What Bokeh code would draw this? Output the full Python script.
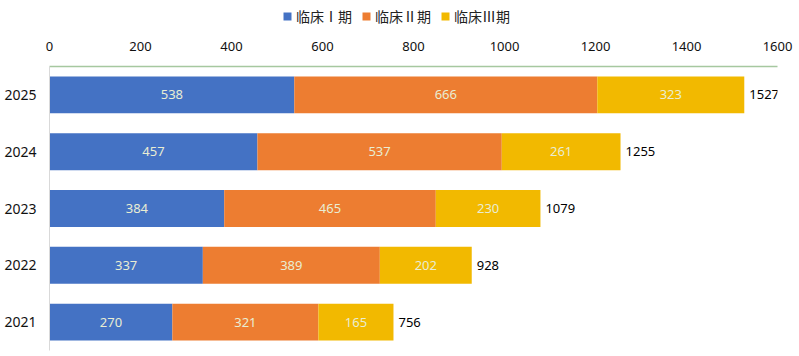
from bokeh.plotting import figure
from bokeh.layouts import column
from bokeh.models import ColumnDataSource, LabelSet, Legend, LegendItem, FixedTicker, Range1d
from bokeh.core.properties import value
from bokeh.embed import file_html
from bokeh.resources import INLINE

years = ["2021", "2022", "2023", "2024", "2025"]
phase1 = [270, 337, 384, 457, 538]
phase2 = [321, 389, 465, 537, 666]
phase3 = [165, 202, 230, 261, 323]
totals = [756, 928, 1079, 1255, 1527]
series_names = ["临床Ⅰ期", "临床Ⅱ期", "临床Ⅲ期"]
colors = ["#4472C4", "#ED7D31", "#F2B900"]
x_ticks = [0, 200, 400, 600, 800, 1000, 1200, 1400, 1600]

src = ColumnDataSource(dict(
    year=years, p1=phase1, p2=phase2, p3=phase3, total=totals,
    m1=[a / 2 for a in phase1],
    m2=[a + b / 2 for a, b in zip(phase1, phase2)],
    m3=[a + b + c / 2 for a, b, c in zip(phase1, phase2, phase3)],
))

# ---- legend strip (its bars are hidden; only the legend shows) ----
lg = figure(width=799, height=36, x_range=Range1d(-2, -1), y_range=Range1d(-2, -1),
            x_axis_location=None, y_axis_location=None,
            output_backend="svg", toolbar_location=None,
            min_border=0, min_border_left=0, min_border_right=0, min_border_top=0, min_border_bottom=0)
lg.grid.visible = False
lg.outline_line_color = None
lg_r = lg.hbar_stack(["p1", "p2", "p3"], y="total", height=1, color=colors,
                     line_color=None, source=src)
for r in lg_r:
    r.visible = False
legend = Legend(items=[LegendItem(label=n, renderers=[r]) for n, r in zip(series_names, lg_r)],
                orientation="horizontal", location=(233, 10),
                label_text_font_size="14px", label_text_font="Noto Sans CJK SC",
                label_text_color="#222222",
                glyph_width=10, glyph_height=10, label_standoff=4, spacing=9,
                padding=0, margin=0, border_line_color=None, background_fill_alpha=0,
                inactive_fill_alpha=0, label_height=14)
lg.add_layout(legend, "center")

# ---- main chart ----
p = figure(width=799, height=320, y_range=years, x_range=Range1d(0, 1600),
           x_axis_location="above", output_backend="svg", toolbar_location=None,
           min_border_left=49, min_border_right=22, min_border_top=30, min_border_bottom=6)

p.hbar_stack(["p1", "p2", "p3"], y="year", height=0.65, color=colors,
             line_color=None, source=src)

font = value("Noto Sans")
for col in ["m1", "m2", "m3"]:
    p.add_layout(LabelSet(x=col, y="year", text=col.replace("m", "p"), source=src,
                          text_font_size="13px", text_font=font, text_align="center",
                          text_baseline="middle", text_color="#E9EDD3"))
p.add_layout(LabelSet(x="total", y="year", text="total", x_offset=5, text_font_size="13px",
                      text_font=font, text_align="left", text_baseline="middle",
                      text_color="#000000", source=src))

p.xaxis.ticker = FixedTicker(ticks=x_ticks)
p.xaxis.major_tick_line_color = None
p.xaxis.minor_tick_line_color = None
p.xaxis.axis_line_color = "#A6C8A0"
p.xaxis.axis_line_width = 1.5
p.xaxis.major_label_standoff = 10
p.xaxis.major_label_text_font_size = "13px"
p.xaxis.major_label_text_font = "Noto Sans"
p.xaxis.major_label_text_color = "#111111"

p.yaxis.major_tick_line_color = None
p.yaxis.minor_tick_line_color = None
p.yaxis.axis_line_color = "#D9D9D9"
p.yaxis.major_label_standoff = 7
p.yaxis.major_label_text_font_size = "14px"
p.yaxis.major_label_text_font = "Noto Sans"
p.yaxis.major_label_text_color = "#111111"

p.xgrid.visible = False
p.ygrid.visible = False
p.outline_line_color = None
p.y_range.range_padding = 0

open("out.html", "w").write(file_html(column(lg, p, spacing=0), INLINE))
